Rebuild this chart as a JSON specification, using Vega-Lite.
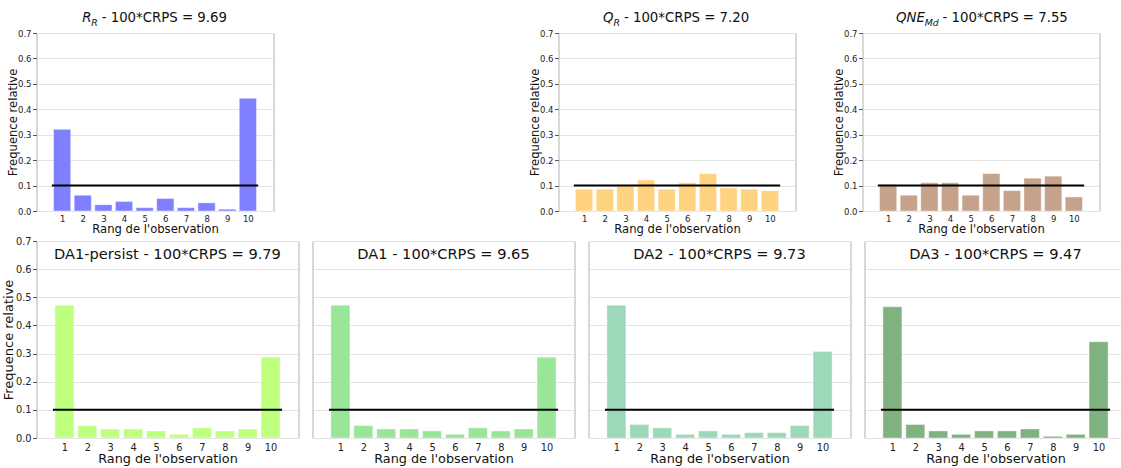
{
  "$schema": "https://vega.github.io/schema/vega-lite/v6.json",
  "padding": {"left": 1.5, "top": 10, "right": 0, "bottom": 0},
  "background": "white",
  "config": {
    "font": "DejaVu Sans",
    "view": {"stroke": "#b0b0b0", "strokeWidth": 1},
    "axis": {"domain": false, "gridColor": "#e3e3e3", "gridWidth": 1, "labelColor": "#222222", "titleColor": "#111111", "titleFontWeight": "normal", "tickColor": "#555555", "labelFont": "DejaVu Sans", "titleFont": "DejaVu Sans", "labelOverlap": false, "labelFlush": false, "tickCount": 20},
    "text": {"font": "DejaVu Sans", "color": "#111111"}
  },
  "datasets": {
    "ranks": [
      {"model": "R_R", "rank": 1, "freq": 0.321}, {"model": "R_R", "rank": 2, "freq": 0.062}, {"model": "R_R", "rank": 3, "freq": 0.025}, {"model": "R_R", "rank": 4, "freq": 0.037}, {"model": "R_R", "rank": 5, "freq": 0.013},
      {"model": "R_R", "rank": 6, "freq": 0.049}, {"model": "R_R", "rank": 7, "freq": 0.013}, {"model": "R_R", "rank": 8, "freq": 0.032}, {"model": "R_R", "rank": 9, "freq": 0.007}, {"model": "R_R", "rank": 10, "freq": 0.443},
      {"model": "Q_R", "rank": 1, "freq": 0.086}, {"model": "Q_R", "rank": 2, "freq": 0.086}, {"model": "Q_R", "rank": 3, "freq": 0.098}, {"model": "Q_R", "rank": 4, "freq": 0.122}, {"model": "Q_R", "rank": 5, "freq": 0.086},
      {"model": "Q_R", "rank": 6, "freq": 0.111}, {"model": "Q_R", "rank": 7, "freq": 0.147}, {"model": "Q_R", "rank": 8, "freq": 0.091}, {"model": "Q_R", "rank": 9, "freq": 0.086}, {"model": "Q_R", "rank": 10, "freq": 0.080},
      {"model": "QNE_Md", "rank": 1, "freq": 0.104}, {"model": "QNE_Md", "rank": 2, "freq": 0.062}, {"model": "QNE_Md", "rank": 3, "freq": 0.111}, {"model": "QNE_Md", "rank": 4, "freq": 0.111}, {"model": "QNE_Md", "rank": 5, "freq": 0.062},
      {"model": "QNE_Md", "rank": 6, "freq": 0.147}, {"model": "QNE_Md", "rank": 7, "freq": 0.080}, {"model": "QNE_Md", "rank": 8, "freq": 0.129}, {"model": "QNE_Md", "rank": 9, "freq": 0.137}, {"model": "QNE_Md", "rank": 10, "freq": 0.055},
      {"model": "DA1-persist", "rank": 1, "freq": 0.472}, {"model": "DA1-persist", "rank": 2, "freq": 0.044}, {"model": "DA1-persist", "rank": 3, "freq": 0.032}, {"model": "DA1-persist", "rank": 4, "freq": 0.032}, {"model": "DA1-persist", "rank": 5, "freq": 0.025},
      {"model": "DA1-persist", "rank": 6, "freq": 0.013}, {"model": "DA1-persist", "rank": 7, "freq": 0.036}, {"model": "DA1-persist", "rank": 8, "freq": 0.025}, {"model": "DA1-persist", "rank": 9, "freq": 0.032}, {"model": "DA1-persist", "rank": 10, "freq": 0.287},
      {"model": "DA1", "rank": 1, "freq": 0.472}, {"model": "DA1", "rank": 2, "freq": 0.044}, {"model": "DA1", "rank": 3, "freq": 0.032}, {"model": "DA1", "rank": 4, "freq": 0.032}, {"model": "DA1", "rank": 5, "freq": 0.025},
      {"model": "DA1", "rank": 6, "freq": 0.013}, {"model": "DA1", "rank": 7, "freq": 0.036}, {"model": "DA1", "rank": 8, "freq": 0.025}, {"model": "DA1", "rank": 9, "freq": 0.032}, {"model": "DA1", "rank": 10, "freq": 0.287},
      {"model": "DA2", "rank": 1, "freq": 0.472}, {"model": "DA2", "rank": 2, "freq": 0.048}, {"model": "DA2", "rank": 3, "freq": 0.036}, {"model": "DA2", "rank": 4, "freq": 0.013}, {"model": "DA2", "rank": 5, "freq": 0.025},
      {"model": "DA2", "rank": 6, "freq": 0.013}, {"model": "DA2", "rank": 7, "freq": 0.019}, {"model": "DA2", "rank": 8, "freq": 0.019}, {"model": "DA2", "rank": 9, "freq": 0.044}, {"model": "DA2", "rank": 10, "freq": 0.307},
      {"model": "DA3", "rank": 1, "freq": 0.466}, {"model": "DA3", "rank": 2, "freq": 0.048}, {"model": "DA3", "rank": 3, "freq": 0.025}, {"model": "DA3", "rank": 4, "freq": 0.013}, {"model": "DA3", "rank": 5, "freq": 0.025},
      {"model": "DA3", "rank": 6, "freq": 0.025}, {"model": "DA3", "rank": 7, "freq": 0.032}, {"model": "DA3", "rank": 8, "freq": 0.006}, {"model": "DA3", "rank": 9, "freq": 0.013}, {"model": "DA3", "rank": 10, "freq": 0.342}
    ]
  },
  "data": {"name": "ranks"},
  "spacing": -1,
  "vconcat": [
    {
      "spacing": 254,
      "hconcat": [
        {
          "width": 237, "height": 178,
          "layer": [
            {
              "transform": [{"filter": "datum.model === 'R_R'"}],
              "mark": {"type": "bar", "width": 17.2, "color": "#8080ff", "stroke": "white", "strokeWidth": 0.8, "strokeOpacity": 0.5},
              "encoding": {
                "x": {"field": "rank", "type": "quantitative", "scale": {"domain": [0, 11], "nice": false, "zero": false},
                      "axis": {"values": [1,2,3,4,5,6,7,8,9,10], "tickCount": 20, "format": "d", "labelOverlap": false, "title": "Rang de l'observation", "titleFontSize": 11.6, "labelFontSize": 8.5, "ticks": false, "tickSize": 0, "labelPadding": 3, "titlePadding": 1, "grid": false}},
                "y": {"field": "freq", "type": "quantitative", "scale": {"domain": [0, 0.7], "nice": false},
                      "axis": {"values": [0,0.1,0.2,0.3,0.4,0.5,0.6,0.7], "tickCount": 20, "format": ".1f", "labelOverlap": false, "title": "Frequence relative", "titleFontSize": 11.6, "labelFontSize": 8.5, "tickSize": 4, "labelPadding": 1.5, "minExtent": 18, "maxExtent": 18, "titlePadding": 0, "grid": true}}
              }
            },
            {"data": {"values": [{}]}, "mark": {"type": "rule", "color": "black", "strokeWidth": 2}, "encoding": {"x": {"datum": 0.5}, "x2": {"datum": 10.5}, "y": {"datum": 0.1}}},
            {"data": {"values": [{"label": "R"}]}, "mark": {"type": "text", "align": "left", "baseline": "alphabetic", "fontSize": 13.3, "fontStyle": "italic", "dy": -11.3}, "encoding": {"x": {"datum": 1.97}, "y": {"datum": 0.7}, "text": {"field": "label"}}},
            {"data": {"values": [{"label": "R"}]}, "mark": {"type": "text", "align": "left", "baseline": "alphabetic", "fontSize": 9.3, "fontStyle": "italic", "dx": 9.2, "dy": -7}, "encoding": {"x": {"datum": 1.97}, "y": {"datum": 0.7}, "text": {"field": "label"}}},
            {"data": {"values": [{"label": "- 100*CRPS = 9.69"}]}, "mark": {"type": "text", "align": "left", "baseline": "alphabetic", "fontSize": 13.3, "dx": 19.5, "dy": -11.3}, "encoding": {"x": {"datum": 1.97}, "y": {"datum": 0.7}, "text": {"field": "label"}}}
          ]
        },
        {
          "spacing": 36,
          "hconcat": [
            {
              "width": 237, "height": 178,
              "layer": [
                {
                  "transform": [{"filter": "datum.model === 'Q_R'"}],
                  "mark": {"type": "bar", "width": 17.2, "color": "#ffd280", "stroke": "white", "strokeWidth": 0.8, "strokeOpacity": 0.5},
                  "encoding": {
                    "x": {"field": "rank", "type": "quantitative", "scale": {"domain": [0, 11], "nice": false, "zero": false},
                          "axis": {"values": [1,2,3,4,5,6,7,8,9,10], "tickCount": 20, "format": "d", "labelOverlap": false, "title": "Rang de l'observation", "titleFontSize": 11.6, "labelFontSize": 8.5, "ticks": false, "tickSize": 0, "labelPadding": 3, "titlePadding": 1, "grid": false}},
                    "y": {"field": "freq", "type": "quantitative", "scale": {"domain": [0, 0.7], "nice": false},
                          "axis": {"values": [0,0.1,0.2,0.3,0.4,0.5,0.6,0.7], "tickCount": 20, "format": ".1f", "labelOverlap": false, "title": "Frequence relative", "titleFontSize": 11.6, "labelFontSize": 8.5, "tickSize": 4, "labelPadding": 1.5, "minExtent": 18, "maxExtent": 18, "titlePadding": 0, "grid": true}}
                  }
                },
                {"data": {"values": [{}]}, "mark": {"type": "rule", "color": "black", "strokeWidth": 2}, "encoding": {"x": {"datum": 0.5}, "x2": {"datum": 10.5}, "y": {"datum": 0.1}}},
                {"data": {"values": [{"label": "Q"}]}, "mark": {"type": "text", "align": "left", "baseline": "alphabetic", "fontSize": 13.3, "fontStyle": "italic", "dy": -11.3}, "encoding": {"x": {"datum": 1.91}, "y": {"datum": 0.7}, "text": {"field": "label"}}},
                {"data": {"values": [{"label": "R"}]}, "mark": {"type": "text", "align": "left", "baseline": "alphabetic", "fontSize": 9.3, "fontStyle": "italic", "dx": 10.5, "dy": -7}, "encoding": {"x": {"datum": 1.91}, "y": {"datum": 0.7}, "text": {"field": "label"}}},
                {"data": {"values": [{"label": "- 100*CRPS = 7.20"}]}, "mark": {"type": "text", "align": "left", "baseline": "alphabetic", "fontSize": 13.3, "dx": 21, "dy": -11.3}, "encoding": {"x": {"datum": 1.91}, "y": {"datum": 0.7}, "text": {"field": "label"}}}
              ]
            },
            {
              "width": 237, "height": 178,
              "layer": [
                {
                  "transform": [{"filter": "datum.model === 'QNE_Md'"}],
                  "mark": {"type": "bar", "width": 17.2, "color": "#c5a289", "stroke": "white", "strokeWidth": 0.8, "strokeOpacity": 0.5},
                  "encoding": {
                    "x": {"field": "rank", "type": "quantitative", "scale": {"domain": [0, 11], "nice": false, "zero": false},
                          "axis": {"values": [1,2,3,4,5,6,7,8,9,10], "tickCount": 20, "format": "d", "labelOverlap": false, "title": "Rang de l'observation", "titleFontSize": 11.6, "labelFontSize": 8.5, "ticks": false, "tickSize": 0, "labelPadding": 3, "titlePadding": 1, "grid": false}},
                    "y": {"field": "freq", "type": "quantitative", "scale": {"domain": [0, 0.7], "nice": false},
                          "axis": {"values": [0,0.1,0.2,0.3,0.4,0.5,0.6,0.7], "tickCount": 20, "format": ".1f", "labelOverlap": false, "title": "Frequence relative", "titleFontSize": 11.6, "labelFontSize": 8.5, "tickSize": 4, "labelPadding": 1.5, "minExtent": 18, "maxExtent": 18, "titlePadding": 0, "grid": true}}
                  }
                },
                {"data": {"values": [{}]}, "mark": {"type": "rule", "color": "black", "strokeWidth": 2}, "encoding": {"x": {"datum": 0.5}, "x2": {"datum": 10.5}, "y": {"datum": 0.1}}},
                {"data": {"values": [{"label": "QNE"}]}, "mark": {"type": "text", "align": "left", "baseline": "alphabetic", "fontSize": 13.3, "fontStyle": "italic", "dy": -11.3}, "encoding": {"x": {"datum": 1.38}, "y": {"datum": 0.7}, "text": {"field": "label"}}},
                {"data": {"values": [{"label": "Md"}]}, "mark": {"type": "text", "align": "left", "baseline": "alphabetic", "fontSize": 9.3, "fontStyle": "italic", "dx": 28.8, "dy": -7}, "encoding": {"x": {"datum": 1.38}, "y": {"datum": 0.7}, "text": {"field": "label"}}},
                {"data": {"values": [{"label": "- 100*CRPS = 7.55"}]}, "mark": {"type": "text", "align": "left", "baseline": "alphabetic", "fontSize": 13.3, "dx": 46.6, "dy": -11.3}, "encoding": {"x": {"datum": 1.38}, "y": {"datum": 0.7}, "text": {"field": "label"}}}
              ]
            }
          ]
        }
      ]
    },
    {
      "spacing": 12,
      "hconcat": [
        {
          "width": 262, "height": 197,
          "layer": [
            {
              "transform": [{"filter": "datum.model === 'DA1-persist'"}],
              "mark": {"type": "bar", "width": 19, "color": "#bfff80", "stroke": "white", "strokeWidth": 0.8, "strokeOpacity": 0.5},
              "encoding": {
                "x": {"field": "rank", "type": "quantitative", "scale": {"domain": [0, 11], "nice": false, "zero": false},
                      "axis": {"values": [1,2,3,4,5,6,7,8,9,10], "tickCount": 20, "format": "d", "labelOverlap": false, "title": "Rang de l'observation", "titleFontSize": 12.8, "labelFontSize": 9.8, "ticks": false, "tickSize": 0, "labelPadding": 4, "titlePadding": 1, "grid": false}},
                "y": {"field": "freq", "type": "quantitative", "scale": {"domain": [0, 0.7], "nice": false},
                      "axis": {"values": [0,0.1,0.2,0.3,0.4,0.5,0.6,0.7], "tickCount": 20, "format": ".1f", "labelOverlap": false, "title": "Frequence relative", "titleFontSize": 13, "labelFontSize": 9.8, "tickSize": 4, "labelPadding": 1.5, "minExtent": 21, "maxExtent": 21, "titlePadding": 0, "grid": true}}
              }
            },
            {"data": {"values": [{}]}, "mark": {"type": "rule", "color": "black", "strokeWidth": 2}, "encoding": {"x": {"datum": 0.5}, "x2": {"datum": 10.5}, "y": {"datum": 0.1}}},
            {"data": {"values": [{"label": "DA1-persist - 100*CRPS = 9.79"}]}, "mark": {"type": "text", "align": "center", "baseline": "alphabetic", "fontSize": 14.6, "dy": 18.3}, "encoding": {"x": {"datum": 5.5}, "y": {"datum": 0.7}, "text": {"field": "label"}}}
          ]
        },
        {
          "width": 262, "height": 197,
          "layer": [
            {
              "transform": [{"filter": "datum.model === 'DA1'"}],
              "mark": {"type": "bar", "width": 19, "color": "#99e699", "stroke": "white", "strokeWidth": 0.8, "strokeOpacity": 0.5},
              "encoding": {
                "x": {"field": "rank", "type": "quantitative", "scale": {"domain": [0, 11], "nice": false, "zero": false},
                      "axis": {"values": [1,2,3,4,5,6,7,8,9,10], "tickCount": 20, "format": "d", "labelOverlap": false, "title": "Rang de l'observation", "titleFontSize": 12.8, "labelFontSize": 9.8, "ticks": false, "tickSize": 0, "labelPadding": 4, "titlePadding": 1, "grid": false}},
                "y": {"field": "freq", "type": "quantitative", "scale": {"domain": [0, 0.7], "nice": false},
                      "axis": {"values": [0,0.1,0.2,0.3,0.4,0.5,0.6,0.7], "tickCount": 20, "labels": false, "ticks": false, "title": null, "minExtent": 0, "maxExtent": 0, "grid": true}}
              }
            },
            {"data": {"values": [{}]}, "mark": {"type": "rule", "color": "black", "strokeWidth": 2}, "encoding": {"x": {"datum": 0.5}, "x2": {"datum": 10.5}, "y": {"datum": 0.1}}},
            {"data": {"values": [{"label": "DA1 - 100*CRPS = 9.65"}]}, "mark": {"type": "text", "align": "center", "baseline": "alphabetic", "fontSize": 14.6, "dy": 18.3}, "encoding": {"x": {"datum": 5.5}, "y": {"datum": 0.7}, "text": {"field": "label"}}}
          ]
        },
        {
          "width": 262, "height": 197,
          "layer": [
            {
              "transform": [{"filter": "datum.model === 'DA2'"}],
              "mark": {"type": "bar", "width": 19, "color": "#9dd9b8", "stroke": "white", "strokeWidth": 0.8, "strokeOpacity": 0.5},
              "encoding": {
                "x": {"field": "rank", "type": "quantitative", "scale": {"domain": [0, 11], "nice": false, "zero": false},
                      "axis": {"values": [1,2,3,4,5,6,7,8,9,10], "tickCount": 20, "format": "d", "labelOverlap": false, "title": "Rang de l'observation", "titleFontSize": 12.8, "labelFontSize": 9.8, "ticks": false, "tickSize": 0, "labelPadding": 4, "titlePadding": 1, "grid": false}},
                "y": {"field": "freq", "type": "quantitative", "scale": {"domain": [0, 0.7], "nice": false},
                      "axis": {"values": [0,0.1,0.2,0.3,0.4,0.5,0.6,0.7], "tickCount": 20, "labels": false, "ticks": false, "title": null, "minExtent": 0, "maxExtent": 0, "grid": true}}
              }
            },
            {"data": {"values": [{}]}, "mark": {"type": "rule", "color": "black", "strokeWidth": 2}, "encoding": {"x": {"datum": 0.5}, "x2": {"datum": 10.5}, "y": {"datum": 0.1}}},
            {"data": {"values": [{"label": "DA2 - 100*CRPS = 9.73"}]}, "mark": {"type": "text", "align": "center", "baseline": "alphabetic", "fontSize": 14.6, "dy": 18.3}, "encoding": {"x": {"datum": 5.5}, "y": {"datum": 0.7}, "text": {"field": "label"}}}
          ]
        },
        {
          "width": 262, "height": 197,
          "layer": [
            {
              "transform": [{"filter": "datum.model === 'DA3'"}],
              "mark": {"type": "bar", "width": 19, "color": "#80b280", "stroke": "white", "strokeWidth": 0.8, "strokeOpacity": 0.5},
              "encoding": {
                "x": {"field": "rank", "type": "quantitative", "scale": {"domain": [0, 11], "nice": false, "zero": false},
                      "axis": {"values": [1,2,3,4,5,6,7,8,9,10], "tickCount": 20, "format": "d", "labelOverlap": false, "title": "Rang de l'observation", "titleFontSize": 12.8, "labelFontSize": 9.8, "ticks": false, "tickSize": 0, "labelPadding": 4, "titlePadding": 1, "grid": false}},
                "y": {"field": "freq", "type": "quantitative", "scale": {"domain": [0, 0.7], "nice": false},
                      "axis": {"values": [0,0.1,0.2,0.3,0.4,0.5,0.6,0.7], "tickCount": 20, "labels": false, "ticks": false, "title": null, "minExtent": 0, "maxExtent": 0, "grid": true}}
              }
            },
            {"data": {"values": [{}]}, "mark": {"type": "rule", "color": "black", "strokeWidth": 2}, "encoding": {"x": {"datum": 0.5}, "x2": {"datum": 10.5}, "y": {"datum": 0.1}}},
            {"data": {"values": [{"label": "DA3 - 100*CRPS = 9.47"}]}, "mark": {"type": "text", "align": "center", "baseline": "alphabetic", "fontSize": 14.6, "dy": 18.3}, "encoding": {"x": {"datum": 5.5}, "y": {"datum": 0.7}, "text": {"field": "label"}}}
          ]
        }
      ]
    }
  ]
}
